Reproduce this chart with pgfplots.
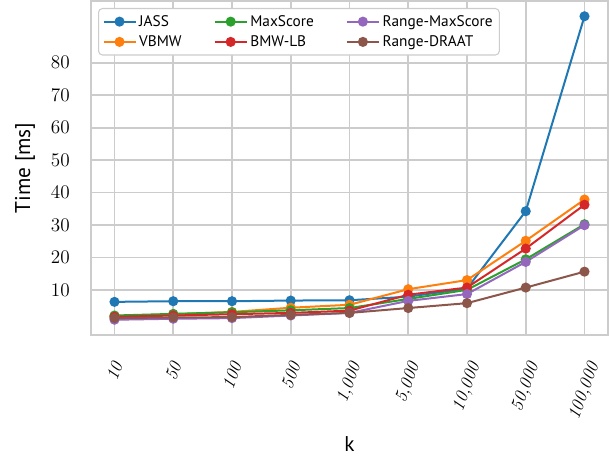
\documentclass[border=0pt]{standalone}
\usepackage{pgfplots}
\pgfplotsset{compat=1.18}
\usepackage{graphicx}
\usepackage{fontspec}
\newfontfamily\sansf{PT Sans}
\usetikzlibrary{calc}
\definecolor{c1}{HTML}{1F77B4}
\definecolor{c2}{HTML}{FF7F0E}
\definecolor{c3}{HTML}{2CA02C}
\definecolor{c4}{HTML}{D62728}
\definecolor{c5}{HTML}{9467BD}
\definecolor{c6}{HTML}{8C564B}
\newcommand{\xl}[1]{\rotatebox{70}{\itshape #1}}
\begin{document}
\begin{tikzpicture}
\begin{axis}[name=ax, scale only axis, width=387.75pt, height=250.5pt,
  xmin=-0.4, xmax=8.4, ymin=-3.8, ymax=99,
  xtick={0,1,2,3,4,5,6,7,8},
  xticklabels={\xl{10},\xl{50},\xl{100},\xl{500},\xl{1,000},\xl{5,000},\xl{10,000},\xl{50,000},\xl{100,000}},
  ytick={10,20,30,40,50,60,70,80},
  grid=major, major grid style={line width=1.2pt, draw=black!20},
  axis line style={line width=1.5pt, draw=black!20},
  major tick length=0pt,
  tick label style={font=\fontsize{13.5}{16}\selectfont},
  xticklabel style={anchor=north, inner sep=0pt, yshift=-19pt},
  yticklabel style={anchor=east, inner sep=0pt, xshift=-15.75pt},
  every axis y label/.style={at={(axis description cs:0,0.5)}, xshift=-49.5pt, rotate=90, anchor=center, font=\sansf\fontsize{16}{19}\selectfont},
  every axis x label/.style={at={(axis description cs:0.5,0)}, yshift=-81.75pt, anchor=center, font=\sansf\fontsize{16}{19}\selectfont},
  xlabel={k}, ylabel={Time [ms]},
  legend style={at={(axis description cs:0,1)}, anchor=north west, xshift=5.25pt, yshift=-5.25pt,
    draw=black!20, line width=0.8pt, rounded corners=3pt, fill=white,
    font=\sansf\fontsize{11.5}{13}\selectfont, inner xsep=3pt, inner ysep=3pt,
    /tikz/every even column/.append style={column sep=22pt}, row sep=1.5pt},
  legend columns=3, legend cell align=left,
  legend image code/.code={\draw[mark repeat=2,mark phase=2] plot coordinates {(0pt,0pt) (12pt,0pt) (24pt,0pt)};},
  s/.style={line width=1.5pt, mark=*, mark size=3pt, mark options={solid}},
]
\addplot[s, c1, forget plot] coordinates {(0,6.4) (1,6.6) (2,6.6) (3,6.8) (4,6.9) (5,8.0) (6,10.5) (7,34.3) (8,94.3)};
\addplot[s, c2, forget plot] coordinates {(0,2.0) (1,2.6) (2,3.3) (3,4.6) (4,5.5) (5,10.3) (6,13.1) (7,25.2) (8,37.9)};
\addplot[s, c3, forget plot] coordinates {(0,2.2) (1,2.7) (2,3.2) (3,3.8) (4,4.5) (5,7.3) (6,10.1) (7,19.5) (8,30.3)};
\addplot[s, c4, forget plot] coordinates {(0,1.8) (1,2.2) (2,2.6) (3,3.0) (4,3.7) (5,8.6) (6,10.8) (7,22.8) (8,36.3)};
\addplot[s, c5, forget plot] coordinates {(0,0.9) (1,1.2) (2,1.4) (3,2.2) (4,3.0) (5,6.7) (6,8.8) (7,18.7) (8,30.0)};
\addplot[s, c6, forget plot] coordinates {(0,1.4) (1,1.6) (2,1.7) (3,2.4) (4,3.0) (5,4.5) (6,6.0) (7,10.8) (8,15.7)};
\addlegendimage{s, c1}\addlegendentry{JASS}
\addlegendimage{s, c3}\addlegendentry{MaxScore}
\addlegendimage{s, c5}\addlegendentry{Range-MaxScore}
\addlegendimage{s, c2}\addlegendentry{VBMW}
\addlegendimage{s, c4}\addlegendentry{BMW-LB}
\addlegendimage{s, c6}\addlegendentry{Range-DRAAT}
\end{axis}
\path[use as bounding box] ($(ax.south west)+(-68.25pt,-92.25pt)$) rectangle ($(ax.north west)+(393.75pt,0.5pt)$);
\end{tikzpicture}
\end{document}
